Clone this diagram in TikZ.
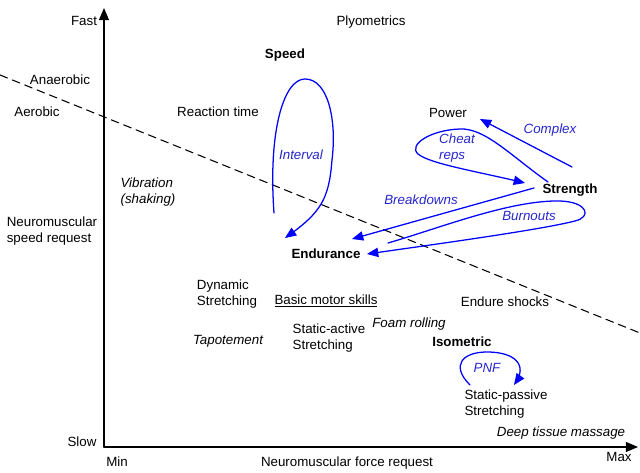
\documentclass[tikz,border=0pt]{standalone}
\usepackage{fontspec}
\setmainfont{Liberation Sans}
\usepackage{tikz}
\usetikzlibrary{arrows}
\definecolor{qqqqff}{rgb}{0,0,1}
\definecolor{ttttcc}{rgb}{0.15,0.15,0.8}
\begin{document}
\begin{tikzpicture}[line cap=round,line join=round,>=triangle 45,x=0.75pt,y=-0.75pt,
  lbl/.style={inner sep=0pt,align=left},
  tech/.style={lbl,font=\itshape,color=ttttcc},
  loop/.style={->,color=qqqqff,line width=0.95pt}]
      \useasboundingbox (0,0) rectangle (640,473);
      % axes
      \coordinate (o) at (104,447);
      \coordinate (ytop) at (104,8);
      \coordinate (xend) at (638,447);
      \draw [->,line width=1.1pt] (o) -- (ytop);
      \draw [->,line width=1.1pt] (o) -- (xend);
      \coordinate (dl) at (0,75);
      \coordinate (dr) at (640,333);
      \draw [dash pattern=on 6pt off 4pt,line width=0.8pt] (dl) -- (dr);
      % labels
      \node[lbl] (fast) at (84,21) {Fast};
      \node[lbl] (slow) at (82,442) {Slow};
      \node[lbl] (min) at (117,462) {Min};
      \node[lbl] (max) at (619,457) {Max};
      \node[lbl] (anaer) at (60,80) {Anaerobic};
      \node[lbl] (aer) at (37,112) {Aerobic};
      \node[lbl] (speedreq) at (52,231) {Neuromuscular\\speed request};
      \node[lbl] (forcereq) at (347,463) {Neuromuscular force request};
      \node[lbl] (plyo) at (371,22) {Plyometrics};
      \node[lbl,font=\bfseries] (speed) at (285,55) {Speed};
      \node[lbl] (react) at (218,112) {Reaction time};
      \node[lbl] (power) at (448,113) {Power};
      \node[lbl,font=\bfseries] (strength) at (570,190) {Strength};
      \node[lbl,font=\bfseries] (endur) at (326,254) {Endurance};
      \node[lbl,font=\itshape] (vibr) at (148,192) {Vibration\\(shaking)};
      \node[lbl] (dynstr) at (227,294) {Dynamic\\Stretching};
      \node[lbl] (basic) at (326,301) {\underline{Basic motor skills}};
      \node[lbl] (endshock) at (505,302) {Endure shocks};
      \node[lbl,font=\itshape] (tapot) at (228,341) {Tapotement};
      \node[lbl] (statact) at (329,338) {Static-active\\Stretching};
      \node[lbl,font=\itshape] (foam) at (409,324) {Foam rolling};
      \node[lbl,font=\bfseries] (iso) at (462,342) {Isometric};
      \node[lbl] (statpas) at (506,404) {Static-passive\\Stretching};
      \node[lbl,font=\itshape] (deep) at (561,433) {Deep tissue massage};
      % technique names
      \node[tech] (interval) at (301,155) {Interval};
      \node[tech] (complex) at (550,130) {Complex};
      \node[tech] (cheat) at (457,148) {Cheat\\reps};
      \node[tech] (breakd) at (421,200) {Breakdowns};
      \node[tech] (burn) at (529,216) {Burnouts};
      \node[tech] (pnf) at (487,368) {PNF};
      % curves
      \coordinate (iv1) at (274,213);
      \coordinate (iv2) at (285,238);
      \draw [loop] (iv1) .. controls (268,130) and (284,79) .. (305,79) .. controls (328,79) and (337,120) .. (332,160) .. controls (329,198) and (322,212) .. (iv2);
      \coordinate (cx1) at (572,167);
      \coordinate (cx2) at (480,119);
      \draw [loop] (cx1) -- (cx2);
      \coordinate (ch1) at (548,182);
      \coordinate (ch2) at (525,183);
      \draw [loop] (ch1) .. controls (510,155) and (485,128) .. (460,129) .. controls (430,130) and (408,145) .. (418,154) .. controls (430,164) and (480,172) .. (ch2);
      \coordinate (bd1) at (534,188);
      \coordinate (bd2) at (352,239);
      \draw [loop] (bd1) -- (bd2);
      \coordinate (bo1) at (388,243);
      \coordinate (bo2) at (367,254);
      \draw [loop] (bo1) .. controls (440,228) and (510,200) .. (560,201) .. controls (588,202) and (592,217) .. (575,221) .. controls (540,230) and (430,245) .. (bo2);
      \coordinate (pn1) at (470,385);
      \coordinate (pn2) at (514,385);
      \draw [loop] (pn1) .. controls (450,365) and (463,352) .. (487,352) .. controls (515,352) and (528,365) .. (pn2);
\end{tikzpicture}
\end{document}
